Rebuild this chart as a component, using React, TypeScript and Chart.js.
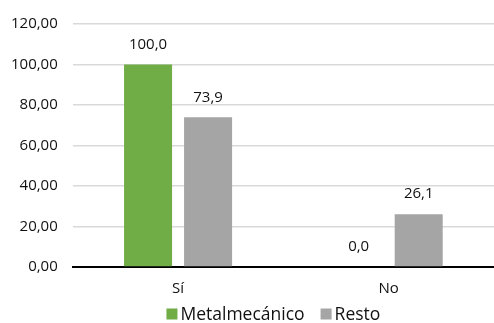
import React, { useEffect, useRef } from "react";
import { Chart, registerables } from "chart.js";

Chart.register(...registerables);

const categories = ["Sí", "No"];
const metalmecanico = [100.0, 0.0];
const resto = [73.9, 26.1];
const seriesNames = ["Metalmecánico", "Resto"];
const seriesColors = ["#70ad47", "#a5a5a5"];
const yTicks = { min: 0, max: 120, step: 20 };

const FONT = "'Open Sans', 'DejaVu Sans', sans-serif";
const TEXT = "#111";

const valueLabels = {
  id: "valueLabels",
  afterDatasetsDraw(chart: any) {
    const ctx = chart.ctx;
    ctx.save();
    ctx.font = `15px ${FONT}`;
    ctx.fillStyle = TEXT;
    ctx.textAlign = "center";
    ctx.textBaseline = "middle";
    chart.data.datasets.forEach((ds: any, i: number) => {
      const meta = chart.getDatasetMeta(i);
      meta.data.forEach((bar: any, j: number) => {
        const v = ds.data[j] as number;
        ctx.fillText(v.toFixed(1).replace(".", ","), bar.x, bar.y - 20);
      });
    });
    ctx.restore();
  },
};

const customLegend = {
  id: "customLegend",
  afterDraw(chart: any) {
    const ctx = chart.ctx;
    ctx.save();
    ctx.font = `17.5px ${FONT}`;
    ctx.textBaseline = "middle";
    ctx.textAlign = "left";
    const box = 11;
    const gap = 3;
    const itemGap = 16;
    const datasets = chart.data.datasets;
    const widths = datasets.map((d: any) => box + gap + ctx.measureText(d.label).width);
    const total = widths.reduce((a: number, b: number) => a + b, 0) + itemGap * (datasets.length - 1);
    const cx = (chart.chartArea.left + chart.chartArea.right) / 2 - 10;
    let x = cx - total / 2;
    const y = chart.height - 9;
    datasets.forEach((d: any, i: number) => {
      ctx.fillStyle = d.backgroundColor;
      ctx.fillRect(x, y - box / 2, box, box);
      ctx.fillStyle = TEXT;
      ctx.fillText(d.label, x + box + gap, y + 1);
      x += widths[i] + itemGap;
    });
    ctx.restore();
  },
};

export default function App() {
  const ref = useRef<HTMLCanvasElement>(null);
  useEffect(() => {
    document.body.style.margin = "0";
    const chart = new Chart(ref.current!, {
      type: "bar",
      data: {
        labels: categories,
        datasets: [
          { label: seriesNames[0], data: metalmecanico, backgroundColor: seriesColors[0] },
          { label: seriesNames[1], data: resto, backgroundColor: seriesColors[1] },
        ],
      },
      options: {
        animation: false,
        responsive: false,
        maintainAspectRatio: false,
        categoryPercentage: 0.57,
        barPercentage: 0.8,
        layout: { padding: { top: 14, right: 0, left: -4, bottom: 20 } },
        plugins: {
          legend: { display: false },
          tooltip: { enabled: false },
        },
        scales: {
          x: {
            grid: { display: false },
            border: { color: "#000", width: 2 },
            ticks: { font: { family: FONT, size: 15 }, color: TEXT, padding: 5 },
          },
          y: {
            min: yTicks.min,
            max: yTicks.max,
            grid: { color: "#d9d9d9", drawTicks: false, lineWidth: 1.5 },
            border: { display: false },
            ticks: {
              stepSize: yTicks.step,
              padding: 15,
              font: { family: FONT, size: 15 },
              color: TEXT,
              callback: (v: any) => Number(v).toFixed(2).replace(".", ","),
            },
          },
        },
      },
      plugins: [valueLabels, customLegend],
    });
    return () => chart.destroy();
  }, []);
  return <canvas ref={ref} width={494} height={323} />;
}
